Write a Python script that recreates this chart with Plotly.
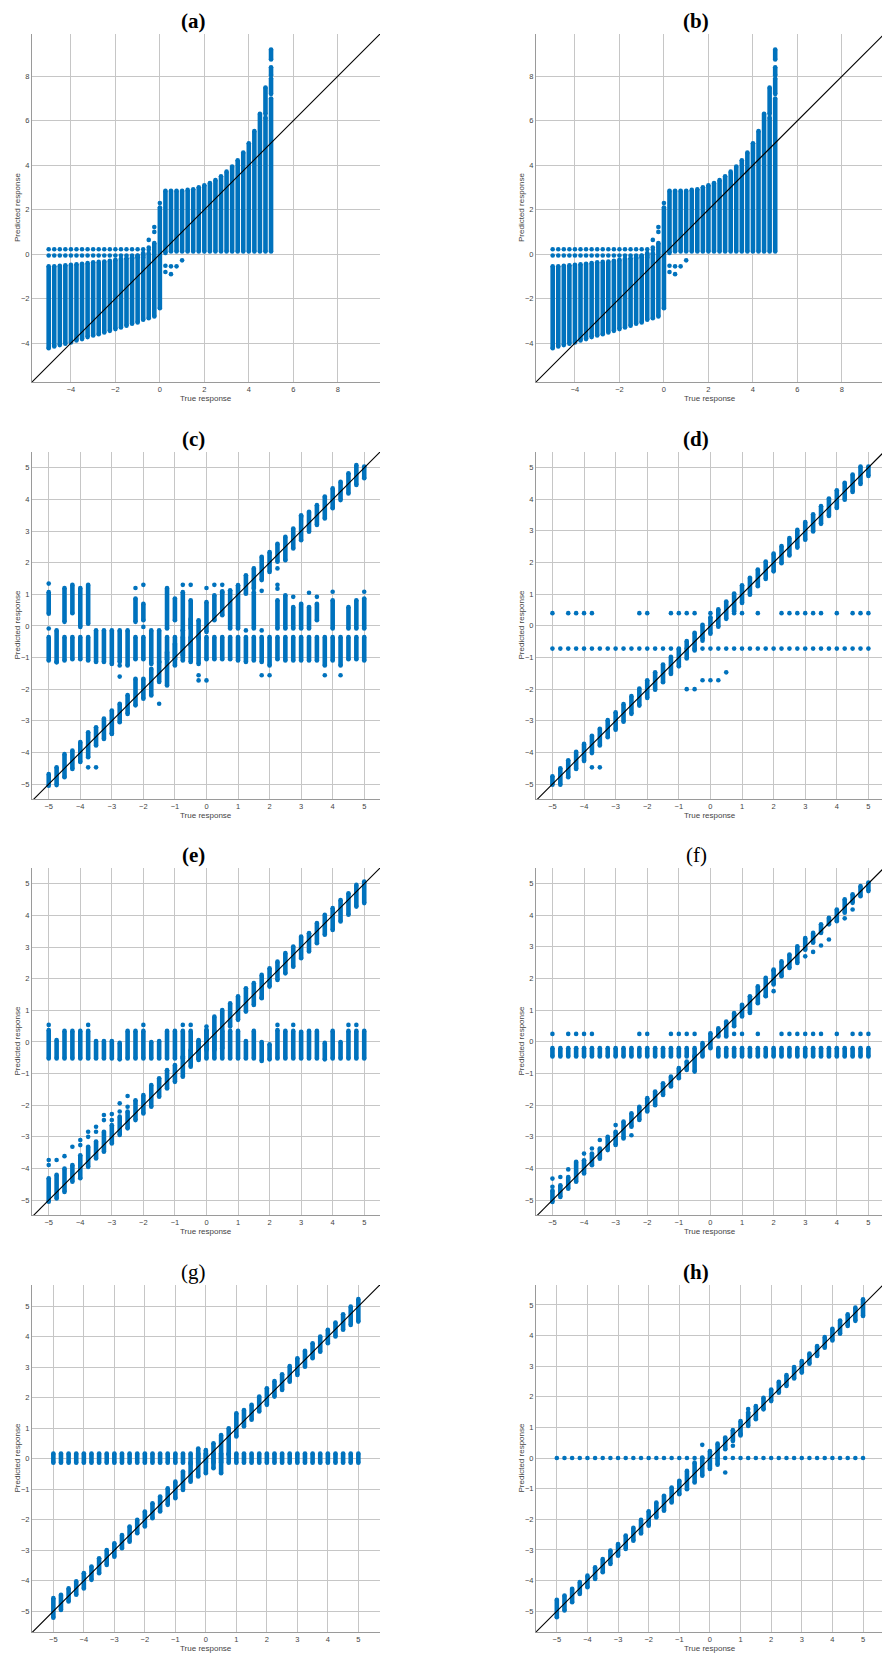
import plotly.graph_objects as go

# ---------------- data ----------------
X41 = [-5, -4.75, -4.5, -4.25, -4, -3.75, -3.5, -3.25, -3, -2.75, -2.5, -2.25, -2, -1.75,
       -1.5, -1.25, -1, -0.75, -0.5, -0.25, 0, 0.25, 0.5, 0.75, 1, 1.25, 1.5, 1.75, 2, 2.25,
       2.5, 2.75, 3, 3.25, 3.5, 3.75, 4, 4.25, 4.5, 4.75, 5]

# (a) and (b): columns of predictions
A_NEG_X = [-5, -4.75, -4.5, -4.25, -4, -3.75, -3.5, -3.25, -3, -2.75, -2.5, -2.25, -2, -1.75,
           -1.5, -1.25, -1, -0.75, -0.5, -0.25, 0]
A_NEG_LO = [-4.23, -4.15, -4.09, -4.03, -3.97, -3.88, -3.82, -3.73, -3.66, -3.6, -3.52, -3.45,
            -3.37, -3.3, -3.22, -3.13, -3.07, -2.95, -2.88, -2.8, -2.43]
A_NEG_HI = [-0.55, -0.55, -0.52, -0.5, -0.48, -0.46, -0.43, -0.4, -0.37, -0.35, -0.33, -0.3,
            -0.25, -0.21, -0.18, -0.13, -0.07, 0.05, 0.05, 0.5, 2.1]
A_POS_X = [0.25, 0.5, 0.75, 1, 1.25, 1.5, 1.75, 2, 2.25, 2.5, 2.75, 3, 3.25, 3.5, 3.75, 4,
           4.25, 4.5, 4.75, 5, 4.75, 5, 5, 5]
A_POS_LO = [0.05, 0.12, 0.12, 0.12, 0.12, 0.12, 0.12, 0.12, 0.12, 0.12, 0.12, 0.12, 0.12, 0.12,
            0.12, 0.12, 0.12, 0.12, 0.12, 0.12, 6.3, 7.2, 8.05, 8.75]
A_POS_HI = [2.85, 2.85, 2.85, 2.85, 2.89, 2.92, 3.01, 3.1, 3.2, 3.33, 3.5, 3.71, 3.94, 4.22,
            4.57, 4.99, 5.54, 6.31, 6.15, 7.0, 7.49, 7.9, 8.4, 9.2]
A_DOT_X = [-5, -4.75, -4.5, -4.25, -4, -3.75, -3.5, -3.25, -3, -2.75, -2.5, -2.25, -2, -1.75,
           -1.5, -1.25, -1, -0.75,
           -5, -4.75, -4.5, -4.25, -4, -3.75, -3.5, -3.25, -3, -2.75, -2.5, -2.25, -2, -1.75,
           -1.5, -1.25, -1, -0.75,
           -1.25, -1, -0.75, -0.5, -0.5, -0.5, -0.25, -0.25, 0, 0.25, 0.25, 0.5, 0.5, 0.75, 1]
A_DOT_Y = [0.22] * 18 + [-0.06] * 18 + \
          [-0.2, -0.15, -0.15, 0.64, 0.3, 0.2, 1.22, 1.0, 2.3, -0.52, -0.8, -0.55, -0.9, -0.55, -0.28]

# (c)
C_DIAG_LO = [-5.05, -5.03, -4.78, -4.52, -4.3, -4.15, -3.78, -3.57, -3.41, -3.04, -2.78, -2.51,
             -2.3, -2.2, -1.77, -1.88, -1.25, -0.93, -0.61, -0.4, -0.19, 0.18, 0.34, -0.08,
             -0.08, 1.02, 1.18, 1.45, 1.71, 2.03, 2.08, 2.45, 2.71, 2.98, 3.19, 3.4, 3.72,
             3.98, 4.19, 4.46, 4.67]
C_DIAG_HI = [-4.68, -4.47, -4.05, -3.94, -3.67, -3.36, -3.2, -2.93, -2.67, -2.46, -2.18, -1.67,
             -1.67, -1.35, -1.14, -0.82, -0.56, -0.14, 0.23, 0.18, 0.76, 0.97, 1.07, 1.13,
             1.29, 1.6, 1.82, 2.19, 2.34, 2.6, 2.82, 3.08, 3.5, 3.61, 3.82, 4.09, 4.35, 4.56,
             4.83, 5.09, 5.04]
C_BAND_LO = [-1.09, -1.14, -1.09, -1.05, -1.05, -1.09, -1.14, -1.14, -1.2, -1.14, -1.25, -1.05,
             -1.05, -1.2, -1.14, -1.05, -1.05, -1.09, -1.14, -1.2, -1.05, -1.05, -1.05, -1.05,
             -1.09, -1.14, -1.09, -1.14, -1.25, -1.05, -1.09, -1.09, -1.09, -1.09, -1.09,
             -1.25, -1.09, -1.25, -1.05, -1.05, -1.09]
C_BAND_HI = [-0.35, -0.14, -0.35, -0.35, -0.35, -0.35, -0.14, -0.14, -0.14, -0.14, -0.14, -0.35,
             -0.35, -0.14, -0.14, -0.35, -0.35, -0.35, -0.35, -0.35, -0.35, -0.35, -0.35, -0.35,
             -0.35, -0.35, -0.35, -0.35, -0.35, -0.35, -0.35, -0.35, -0.35, -0.35, -0.35,
             -0.35, -0.35, -0.35, -0.35, -0.35, -0.35]
C_UP_X = [-5, -4.5, -4.25, -4, -3.75, -2.25, -2, -1.25, -1, -0.75, -0.5, 1.5, 2.25, 2.5, 2.75,
          3, 3.25, 3.5, 4, 4.5, 4.75, 5]
C_UP_LO = [0.39, 0.13, 0.4, -0.03, 0.07, 0.13, 0.18, -0.08, 0.18, -0.14, -0.08, -0.08, -0.08,
           -0.08, -0.08, -0.08, -0.08, 0.18, -0.08, -0.08, -0.08, -0.08]
C_UP_HI = [1.07, 1.2, 1.3, 1.2, 1.3, 0.87, 0.7, 1.2, 0.87, 1.07, 0.81, 1.07, 0.81, 0.97, 0.6,
           0.7, 0.6, 0.7, 0.81, 0.6, 0.81, 0.87]
C_DOT_X = [-5, -5, -4.75, -3.75, -3.5, -2.75, -2.75, -2.25, -2, -2, -1.5, -0.75, -0.5, -0.25,
           -0.25, 0, 0, 0.25, 0.5, 0.5, 1.25, 1.75, 1.75, 1.75, 2, 2.25, 2.25, 2.25, 2.75, 3.25,
           3.5, 3.75, 4, 4.25, 5, -3, 3]
C_DOT_Y = [1.34, -0.08, -1.15, -4.47, -4.47, -1.6, -1.25, 1.2, 1.3, -0.03, -2.46, 1.3, 1.3, -1.56,
           -1.72, 1.2, -1.72, 1.3, 1.3, 1.1, -0.14, 1.11, -0.14, -1.56, -1.56, 1.82, 1.3, 1.18,
           0.92, 1.05, 0.92, -1.56, 1.08, -1.56, 1.08, -3.41, 3.45]

# (d)
D_DIAG_LO = [-5.02, -5.02, -4.78, -4.52, -4.27, -4.02, -3.78, -3.52, -3.28, -3.03, -2.78, -2.52,
             -2.28, -2.02, -1.78, -1.52, -1.28, -1.03, -0.78, -0.42, -0.25, -0.03, 0.22, 0.45,
             0.72, 0.98, 1.25, 1.48, 1.72, 1.98, 2.22, 2.47, 2.72, 2.98, 3.22, 3.47, 3.72,
             3.98, 4.23, 4.48, 4.73]
D_DIAG_HI = [-4.75, -4.5, -4.25, -3.98, -3.73, -3.47, -3.25, -2.98, -2.73, -2.47, -2.22, -1.98,
             -1.72, -1.47, -1.22, -0.98, -0.73, -0.48, -0.22, 0.03, 0.27, 0.52, 0.77, 1.02,
             1.28, 1.52, 1.78, 2.03, 2.28, 2.52, 2.77, 3.03, 3.28, 3.52, 3.78, 4.02, 4.28,
             4.52, 4.78, 5.03, 5.03]
D_ROW_HI_X = [-5, -4.5, -4.25, -4, -3.75, -2.25, -2, -1.25, -1, -0.75, -0.5, 0, 0.75, 1, 1.5,
              2.25, 2.5, 2.75, 3, 3.25, 3.5, 4, 4.5, 4.75, 5]
D_ROW_HI_Y = 0.4
D_ROW_LO_Y = -0.72
D_DOT_X = [-3.75, -3.5, -0.75, -0.5, -0.25, 0, 0.25, 0.5, -0.25]
D_DOT_Y = [-4.47, -4.47, -2.0, -2.0, -1.72, -1.72, -1.72, -1.47, -0.47]

# (e)
E_DIAG_LO = [-5.05, -4.95, -4.74, -4.42, -4.31, -3.95, -3.68, -3.47, -3.21, -2.94, -2.73, -2.47,
             -2.26, -2.05, -1.73, -1.47, -1.26, -1.1, -0.78, -0.57, -0.25, -0.25, -0.2, 0.49,
             0.7, 0.96, 1.17, 1.38, 1.75, 1.96, 2.17, 2.38, 2.65, 2.86, 3.12, 3.39, 3.54,
             3.81, 4.02, 4.28, 4.39]
E_DIAG_HI = [-4.31, -4.2, -4.0, -3.89, -3.58, -3.31, -3.15, -2.84, -2.63, -2.36, -2.2, -1.84,
             -1.68, -1.36, -1.15, -0.89, -0.73, -0.46, -0.25, 0.06, 0.38, 0.8, 1.01, 1.22,
             1.44, 1.7, 1.86, 2.12, 2.33, 2.54, 2.81, 3.02, 3.33, 3.44, 3.76, 4.02, 4.23, 4.49,
             4.7, 4.97, 5.07]
E_BAND_LO = [-0.52, -0.52, -0.52, -0.52, -0.52, -0.52, -0.52, -0.52, -0.52, -0.55, -0.52, -0.52,
             -0.52, -0.52, -0.52, -0.52, -0.52, -0.52, -0.52, -0.52, -0.52, -0.52, -0.52, -0.52,
             -0.52, -0.52, -0.52, -0.6, -0.55, -0.52, -0.52, -0.52, -0.52, -0.52, -0.52, -0.55,
             -0.52, -0.52, -0.52, -0.52, -0.52]
E_BAND_HI = [0.38, 0.06, 0.35, 0.35, 0.35, 0.35, 0.03, 0.03, 0.03, -0.03, 0.35, 0.35, 0.35, 0.0,
             0.03, 0.35, 0.35, 0.35, 0.35, 0.03, 0.38, 0.35, 0.35, 0.35, 0.35, 0.03, 0.35, 0.0,
             -0.07, 0.38, 0.35, 0.35, 0.32, 0.35, 0.35, -0.03, 0.35, 0.0, 0.35, 0.35, 0.35]
E_DOT_X = [-5, -5, -4.75, -4.5, -4.25, -4, -4, -3.75, -3.75, -3.5, -3.5, -3.25, -3.25, -3, -3,
           -2.75, -2.75, -2.5, -2.5, -5, -3.75, -2, -0.75, -0.5, 0, 2.25, 2.75, 4.5, 4.75, 1.75]
E_DOT_Y = [-3.89, -3.73, -3.73, -3.61, -3.31, -3.26, -3.1, -3.0, -2.84, -2.84, -2.68, -2.47,
           -2.31, -2.47, -2.28, -2.2, -1.94, -1.71, -2.05, 0.54, 0.54, 0.54, 0.54, 0.54, 0.49,
           0.54, 0.54, 0.54, 0.54, 1.4]

# (f)
F_DIAG_LO = [-5.06, -4.9, -4.64, -4.42, -4.16, -3.9, -3.69, -3.42, -3.26, -3.05, -2.68, -2.47,
             -2.2, -2.0, -1.68, -1.41, -1.15, -0.89, -0.94, -0.46, -0.2, 0.17, 0.17, 0.49, 0.8,
             0.91, 1.22, 1.44, 1.81, 2.07, 2.33, 2.49, 2.91, 3.13, 3.44, 3.71, 3.81, 4.08, 4.39,
             4.6, 4.76]
F_DIAG_HI = [-4.7, -4.53, -4.27, -3.79, -3.74, -3.53, -3.37, -3.0, -2.84, -2.52, -2.26, -2.05,
             -1.78, -1.57, -1.31, -1.1, -0.83, -0.62, -0.46, -0.04, 0.27, 0.43, 0.64, 0.91,
             1.17, 1.44, 1.75, 2.02, 2.28, 2.54, 2.76, 3.02, 3.28, 3.44, 3.71, 3.92, 4.18, 4.5,
             4.66, 4.92, 5.03]
F_BAND_X = [-5, -4.75, -4.5, -4.25, -4, -3.75, -3.5, -3.25, -3, -2.75, -2.5, -2.25, -2, -1.75,
            -1.5, -1.25, -1, -0.75, -0.5, 0.25, 0.5, 0.75, 1, 1.25, 1.5, 1.75, 2, 2.25, 2.5,
            2.75, 3, 3.25, 3.5, 3.75, 4, 4.25, 4.5, 4.75, 5]
F_BAND_LO = -0.46
F_BAND_HI = -0.2
F_ROW_X = [-5, -4.5, -4.25, -4, -3.75, -2.25, -2, -1.25, -1, -0.75, -0.5, 0.75, 1, 1.5, 2.25,
           2.5, 2.75, 3, 3.25, 3.5, 4, 4.5, 4.75, 5]
F_ROW_Y = 0.25
F_DOT_X = [-5, -5, -4.75, -4.5, -4, -3.75, -3.5, -3, -2.5, 2, 3, 3.25, 3.5, 3.75, 4.25, 4.5,
           1.75, 2]
F_DOT_Y = [-4.58, -4.32, -4.27, -4.03, -3.53, -3.37, -3.1, -2.63, -2.95, 1.6, 2.7, 2.84, 3.04,
           3.23, 3.9, 4.18, 1.45, 2.25]

# (g)
G_DIAG_LO = [-5.21, -4.96, -4.68, -4.46, -4.25, -3.97, -3.75, -3.48, -3.21, -2.93, -2.72, -2.44,
             -2.22, -1.95, -1.73, -1.51, -1.29, -1.02, -0.75, -0.58, -0.47, -0.31, -0.47, 0.13,
             0.73, 1.06, 1.28, 1.55, 1.77, 2.04, 2.26, 2.53, 2.75, 3.02, 3.3, 3.51, 3.79, 4.01,
             4.23, 4.39, 4.5]
G_DIAG_HI = [-4.57, -4.46, -4.25, -4.02, -3.75, -3.53, -3.26, -2.99, -2.77, -2.5, -2.22, -2.0,
             -1.73, -1.46, -1.24, -0.97, -0.75, -0.42, -0.15, 0.34, 0.29, 0.51, 0.78, 1.0, 1.49,
             1.6, 1.77, 2.04, 2.31, 2.55, 2.77, 3.04, 3.3, 3.54, 3.79, 4.01, 4.23, 4.47, 4.74,
             4.99, 5.24]
G_BAND_LO = -0.13
G_BAND_HI = 0.17

# (h)
H_DIAG_LO = [-5.2, -4.98, -4.71, -4.44, -4.22, -3.95, -3.73, -3.46, -3.19, -2.97, -2.7, -2.46,
             -2.21, -1.94, -1.72, -1.45, -1.18, -1.02, -0.8, -0.58, -0.36, -0.22, 0.29, 0.56,
             0.78, 1.05, 1.27, 1.59, 1.86, 2.13, 2.35, 2.6, 2.79, 3.08, 3.33, 3.6, 3.84, 4.06,
             4.31, 4.48, 4.64]
H_DIAG_HI = [-4.63, -4.49, -4.27, -4.05, -3.84, -3.57, -3.3, -3.02, -2.81, -2.53, -2.28, -2.02,
             -1.74, -1.45, -1.23, -0.96, -0.74, -0.42, -0.15, 0.02, 0.23, 0.47, 0.67, 0.91,
             1.21, 1.49, 1.7, 1.97, 2.24, 2.49, 2.71, 2.97, 3.17, 3.41, 3.66, 3.95, 4.22, 4.49,
             4.69, 4.91, 5.18]
H_ROW_Y = 0.0
H_DOT_X = [-0.25, 0.5, 0.75, 1.25, 1]
H_DOT_Y = [0.43, -0.47, 0.4, 1.6, 0.74]

TITLES = ["(a)", "(b)", "(c)", "(d)", "(e)", "(f)", "(g)", "(h)"]
TITLE_BOLD = [True, True, True, True, True, False, False, True]
X_LABEL = "True response"
Y_LABEL = "Predicted response"

# ---------------- styling / layout ----------------
W, H = 882, 1654
BLUE = "#0072BD"
MS = 4.6

LEFT = (32, 380)
RIGHT = (536, 882)
ROWS = [(34, 382), (452, 799), (868, 1215), (1285, 1632)]

RANGES = [
    ([-5.75, 9.9], [-5.75, 9.9]),
    ([-5.75, 9.8], [-5.75, 9.9]),
    ([-5.53, 5.5], [-5.47, 5.5]),
    ([-5.52, 5.43], [-5.47, 5.49]),
    ([-5.53, 5.5], [-5.47, 5.5]),
    ([-5.52, 5.43], [-5.47, 5.49]),
    ([-5.7, 5.71], [-5.68, 5.7]),
    ([-5.68, 5.62], [-5.68, 5.65]),
]
TICKS_AB = [-4, -2, 0, 2, 4, 6, 8]
TICKS_CH = [-5, -4, -3, -2, -1, 0, 1, 2, 3, 4, 5]

fig = go.Figure()


def axname(i, kind):
    return kind if i == 0 else f"{kind}{i + 1}"


def add_segments(i, xs, lo, hi):
    px, py = [], []
    for x, a, b in zip(xs, lo, hi):
        px += [x, x, None]
        py += [a, b, None]
    fig.add_trace(go.Scatter(x=px, y=py, mode="lines+markers",
                             line=dict(color=BLUE, width=MS),
                             marker=dict(color=BLUE, size=MS),
                             xaxis=axname(i, "x"), yaxis=axname(i, "y"),
                             hoverinfo="skip"))


def add_dots(i, xs, ys):
    fig.add_trace(go.Scatter(x=xs, y=ys, mode="markers",
                             marker=dict(color=BLUE, size=MS),
                             xaxis=axname(i, "x"), yaxis=axname(i, "y"),
                             hoverinfo="skip"))


def add_diag(i):
    fig.add_trace(go.Scatter(x=[-12, 12], y=[-12, 12], mode="lines",
                             line=dict(color="black", width=1.1),
                             xaxis=axname(i, "x"), yaxis=axname(i, "y"),
                             hoverinfo="skip"))


# (a) and (b)
for i in (0, 1):
    add_segments(i, A_NEG_X, A_NEG_LO, A_NEG_HI)
    add_segments(i, A_POS_X, A_POS_LO, A_POS_HI)
    add_dots(i, A_DOT_X, A_DOT_Y)
    add_diag(i)

# (c)
add_segments(2, X41, C_BAND_LO, C_BAND_HI)
add_segments(2, C_UP_X, C_UP_LO, C_UP_HI)
add_segments(2, X41, C_DIAG_LO, C_DIAG_HI)
add_dots(2, C_DOT_X, C_DOT_Y)
add_diag(2)

# (d)
add_dots(3, D_ROW_HI_X, [D_ROW_HI_Y] * len(D_ROW_HI_X))
add_dots(3, X41, [D_ROW_LO_Y] * len(X41))
add_dots(3, D_DOT_X, D_DOT_Y)
add_segments(3, X41, D_DIAG_LO, D_DIAG_HI)
add_diag(3)

# (e)
add_segments(4, X41, E_BAND_LO, E_BAND_HI)
add_segments(4, X41, E_DIAG_LO, E_DIAG_HI)
add_dots(4, E_DOT_X, E_DOT_Y)
add_diag(4)

# (f)
add_segments(5, F_BAND_X, [F_BAND_LO] * len(F_BAND_X), [F_BAND_HI] * len(F_BAND_X))
add_dots(5, F_ROW_X, [F_ROW_Y] * len(F_ROW_X))
add_segments(5, X41, F_DIAG_LO, F_DIAG_HI)
add_dots(5, F_DOT_X, F_DOT_Y)
add_diag(5)

# (g)
add_segments(6, X41, [G_BAND_LO] * len(X41), [G_BAND_HI] * len(X41))
add_segments(6, X41, G_DIAG_LO, G_DIAG_HI)
add_diag(6)

# (h)
add_dots(7, X41, [H_ROW_Y] * len(X41))
add_segments(7, X41, H_DIAG_LO, H_DIAG_HI)
add_dots(7, H_DOT_X, H_DOT_Y)
add_diag(7)

layout = dict(width=W, height=H, margin=dict(l=0, r=0, t=0, b=0),
              paper_bgcolor="white", plot_bgcolor="white", showlegend=False)

annotations = []
for i in range(8):
    col = LEFT if i % 2 == 0 else RIGHT
    top, bot = ROWS[i // 2]
    xr, yr = RANGES[i]
    ticks = TICKS_AB if i < 2 else TICKS_CH
    common = dict(showgrid=True, gridcolor="#c6c6c6", gridwidth=1, zeroline=False,
                  showline=True, linecolor="#9a9a9a", linewidth=1, mirror=False,
                  ticks="", tickfont=dict(family="Liberation Sans, Arial", size=7.5, color="#444444"),
                  tickvals=ticks, fixedrange=True)
    xkey = "xaxis" if i == 0 else f"xaxis{i + 1}"
    ykey = "yaxis" if i == 0 else f"yaxis{i + 1}"
    layout[xkey] = dict(common, domain=[col[0] / W, min(col[1] / W, 1.0)], range=xr,
                        anchor=axname(i, "y"))
    layout[ykey] = dict(common, domain=[1 - bot / H, 1 - top / H], range=yr,
                        anchor=axname(i, "x"))

    tx = 193 if i % 2 == 0 else 696
    ty = top - 13
    t = TITLES[i]
    annotations.append(dict(text=f"<b>{t}</b>" if TITLE_BOLD[i] else t,
                            x=tx / W, y=1 - ty / H, xref="paper", yref="paper",
                            showarrow=False, xanchor="center", yanchor="middle",
                            font=dict(family="Liberation Serif, DejaVu Serif", size=21, color="black")))
    cx = (col[0] + 380 - 32 + col[0]) / 2 if False else (col[0] + col[0] + 348) / 2
    annotations.append(dict(text=X_LABEL, x=cx / W, y=1 - (bot + 16) / H, xref="paper", yref="paper",
                            showarrow=False, xanchor="center", yanchor="middle",
                            font=dict(family="Liberation Sans, Arial", size=8, color="#444444")))
    annotations.append(dict(text=Y_LABEL, x=(col[0] - 15) / W, y=1 - ((top + bot) / 2) / H,
                            xref="paper", yref="paper", textangle=-90,
                            showarrow=False, xanchor="center", yanchor="middle",
                            font=dict(family="Liberation Sans, Arial", size=8, color="#444444")))

layout["annotations"] = annotations
fig.update_layout(**layout)
fig.write_html("out.html")
